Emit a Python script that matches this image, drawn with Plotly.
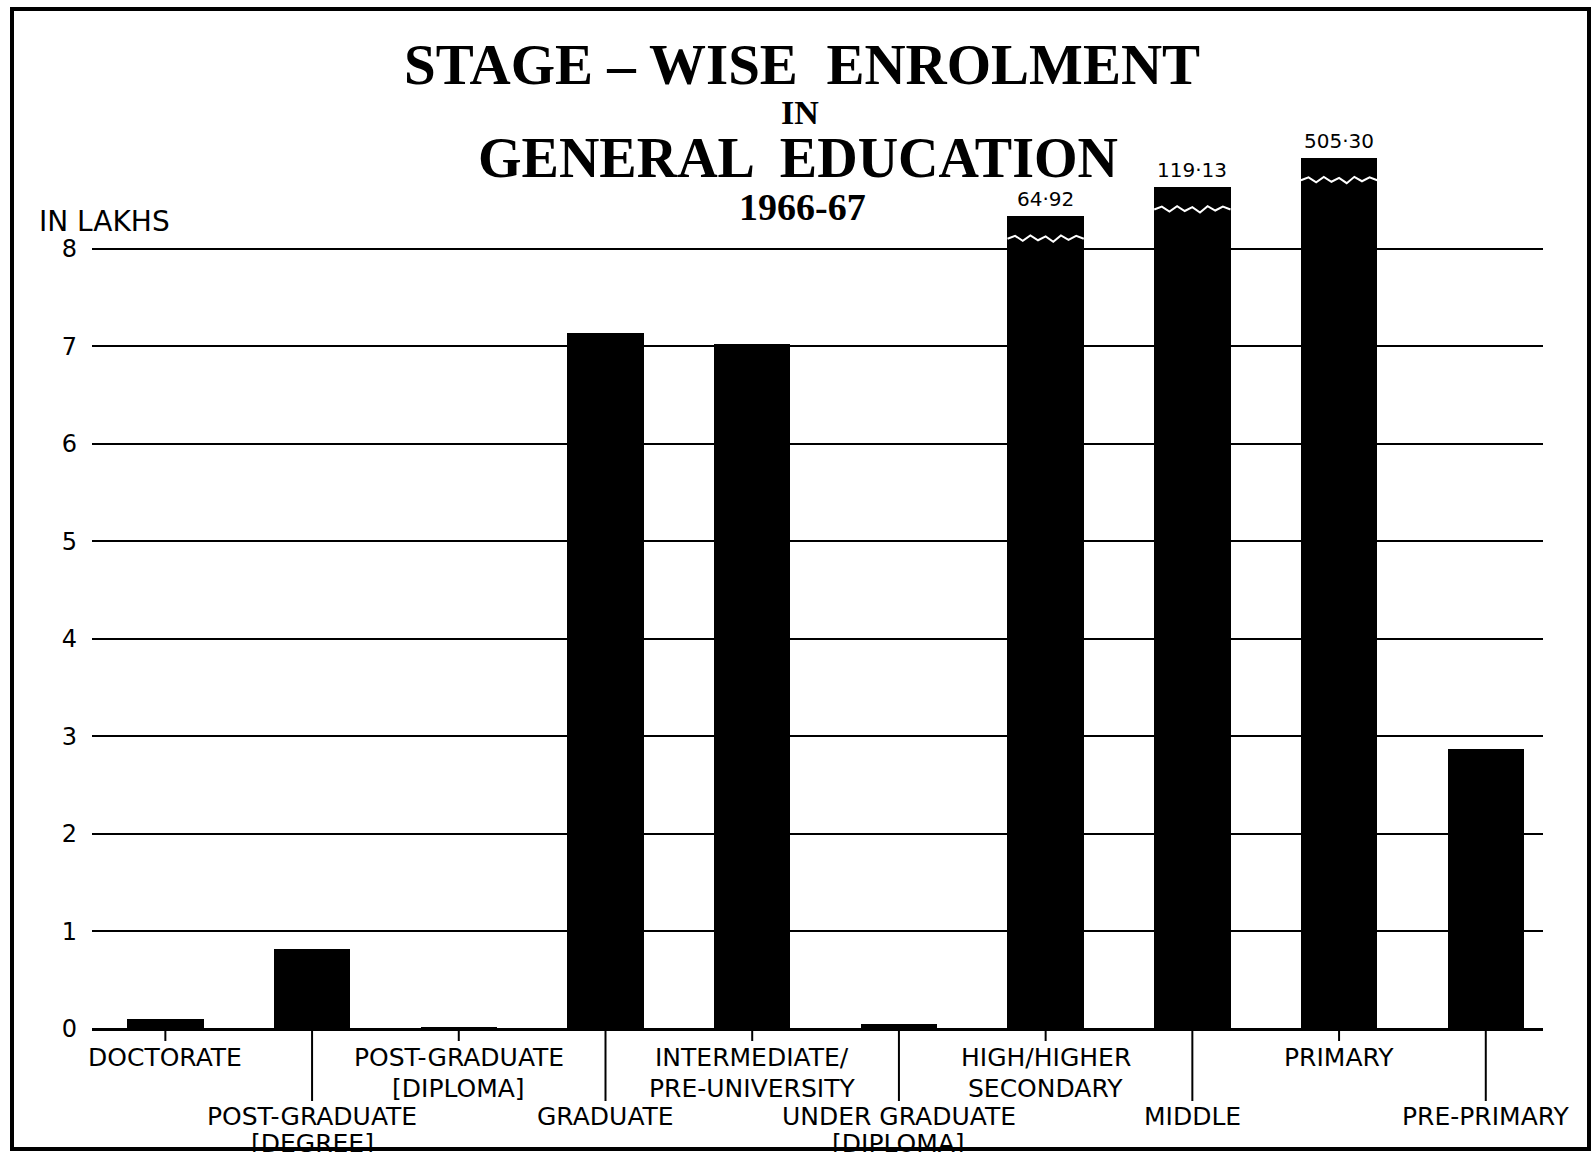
import plotly.graph_objects as go

# ---------------- data ----------------
categories = [
    "DOCTORATE",
    "POST-GRADUATE\n[DEGREE]",
    "POST-GRADUATE\n[DIPLOMA]",
    "GRADUATE",
    "INTERMEDIATE/\nPRE-UNIVERSITY",
    "UNDER GRADUATE\n[DIPLOMA]",
    "HIGH/HIGHER\nSECONDARY",
    "MIDDLE",
    "PRIMARY",
    "PRE-PRIMARY",
]
# enrolment in lakhs
values = [0.10, 0.82, 0.02, 7.13, 7.02, 0.05, 64.92, 119.13, 505.30, 2.87]
# height at which the broken (off-scale) bars are drawn on the chart
broken_display = [None, None, None, None, None, None, 8.33, 8.63, 8.93, None]
value_labels = ["", "", "", "", "", "", "64·92", "119·13", "505·30", ""]
y_ticks = [0, 1, 2, 3, 4, 5, 6, 7, 8]

# ---------------- layout helpers ----------------
W, H = 1595, 1152
L, R = 92, 1543          # plot area x-pixels
T, B = 151, 1029         # plot area y-pixels

def px(x):
    return (x - L) / (R - L)

def py(y):
    return (B - y) / (B - T)

n = len(categories)
xpos = list(range(n))
heights = [b if b is not None else v for v, b in zip(values, broken_display)]
bar_w = 0.52

fig = go.Figure()
fig.add_trace(go.Bar(
    x=xpos, y=heights, width=bar_w,
    marker=dict(color="black", line=dict(width=0)),
    hoverinfo="skip", showlegend=False,
))

# white zig-zag break marks on the off-scale bars
zig = [0.0, 0.03, -0.02, 0.035, -0.015, 0.025, -0.03, 0.035, -0.01, 0.03, 0.0]
for i, b in enumerate(broken_display):
    if b is None:
        continue
    yb = b - 0.23
    xs = [i - bar_w / 2 + bar_w * k / (len(zig) - 1) for k in range(len(zig))]
    ys = [yb + z for z in zig]
    fig.add_trace(go.Scatter(
        x=xs, y=ys, mode="lines",
        line=dict(color="white", width=2),
        hoverinfo="skip", showlegend=False, cliponaxis=False,
    ))

annotations = []
shapes = []

# value labels above broken bars
for i, lab in enumerate(value_labels):
    if lab:
        annotations.append(dict(
            x=i, y=heights[i], xref="x", yref="y", text=lab, showarrow=False,
            xanchor="center", yanchor="bottom", yshift=3,
            font=dict(family="DejaVu Sans", size=20, color="black"),
        ))

# category labels in two staggered rows with separator lines
row_lines = {0: [1057, 1088], 1: [1116, 1143]}
for i, cat in enumerate(categories):
    row = i % 2
    for j, line in enumerate(cat.split("\n")):
        annotations.append(dict(
            x=i, y=py(row_lines[row][j]), xref="x", yref="paper",
            text=line, showarrow=False, xanchor="center", yanchor="middle",
            font=dict(family="DejaVu Sans", size=25, color="black"),
        ))
    end = 1101 if row == 1 else 1041
    shapes.append(dict(
        type="line", xref="x", yref="paper", x0=i, x1=i, y0=0, y1=py(end),
        line=dict(color="black", width=2),
    ))

# titles
serif = "Liberation Serif"
def title_ann(x, y, text, size, family=serif):
    return dict(x=px(x), y=py(y), xref="paper", yref="paper", text=text,
                showarrow=False, xanchor="center", yanchor="middle",
                font=dict(family=family, size=size, color="black"))

annotations += [
    title_ann(802, 64, "<b>STAGE – WISE  ENROLMENT</b>", 57),
    title_ann(800, 112, "<b>IN</b>", 34),
    title_ann(798, 158, "<b>GENERAL  EDUCATION</b>", 56),
    title_ann(802, 207, "<b>1966-67</b>", 38),
    title_ann(104, 221, "IN LAKHS", 28, "DejaVu Sans"),
]

# outer frame
shapes.append(dict(
    type="rect", xref="paper", yref="paper",
    x0=px(12), x1=px(1589), y0=py(1149), y1=py(9),
    line=dict(color="black", width=4), fillcolor="rgba(0,0,0,0)",
))

fig.update_layout(
    width=W, height=H,
    margin=dict(l=L, r=W - R, t=T, b=H - B, pad=0),
    paper_bgcolor="white", plot_bgcolor="white",
    bargap=0,
    xaxis=dict(range=[-0.5, n - 1 + 0.39], showticklabels=False, showgrid=False,
               zeroline=False, ticks="", showline=False, fixedrange=True),
    yaxis=dict(range=[0, 9], tickvals=y_ticks, ticktext=[str(t) for t in y_ticks],
               showgrid=True, gridcolor="black", gridwidth=2,
               zeroline=True, zerolinecolor="black", zerolinewidth=3,
               showline=False, ticks="", ticklabelstandoff=14,
               tickfont=dict(family="DejaVu Sans", size=24, color="black"),
               fixedrange=True),
    annotations=annotations,
    shapes=shapes,
    showlegend=False,
)

fig.write_html(
    "out.html",
    config={"displayModeBar": False},
    post_script="document.body.style.margin='0';document.body.style.overflow='hidden';",
)
